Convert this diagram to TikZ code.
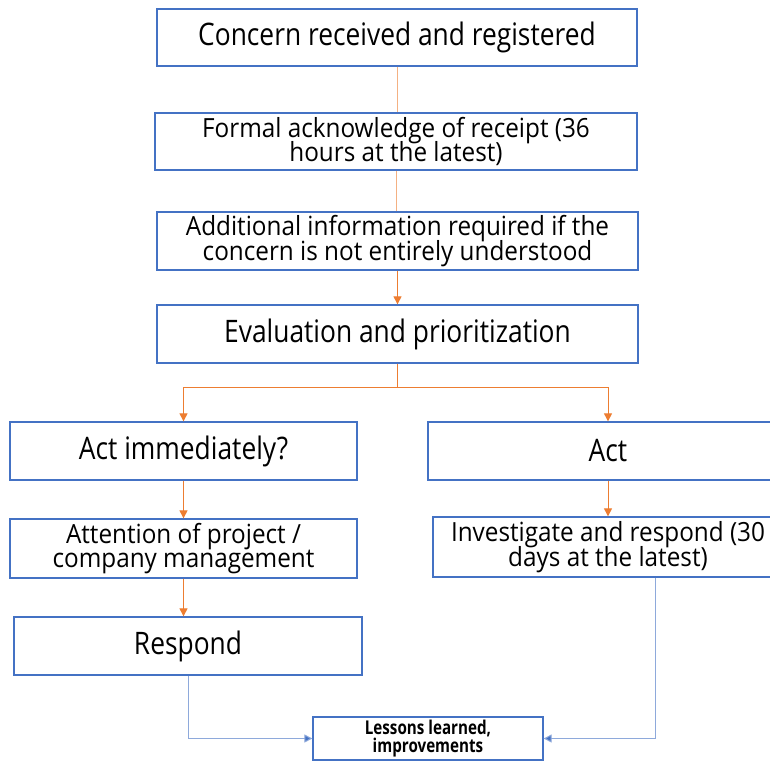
\documentclass[tikz,border=0pt]{standalone}
\usepackage{fontspec}
\setmainfont[FakeStretch=0.85]{Open Sans}
\newfontfamily\twofont[FakeStretch=0.92]{Open Sans}
\newfontfamily\lessonsfont[FakeStretch=0.8]{Open Sans}
\usetikzlibrary{arrows.meta}
\definecolor{boxblue}{HTML}{4472C4}
\definecolor{lineorange}{HTML}{ED7D31}
\definecolor{paleorange}{HTML}{F4B183}
\definecolor{lineblue}{HTML}{8EA9DB}
\begin{document}
\begin{tikzpicture}[x=1pt,y=1pt,
  box/.style={draw=boxblue, line width=1.3pt, rectangle, inner sep=0pt, align=center,
    font={\twofont\fontsize{26.4}{24.5}\selectfont\lineskiplimit=-30pt}},
  big/.style={font={\fontsize{31}{26}\selectfont}},
  paleline/.style={draw=paleorange, line width=0.8pt},
  orline/.style={draw=lineorange, line width=1pt, -{Triangle[length=8pt,width=8pt]}},
  forkline/.style={draw=lineorange, line width=1pt},
  blline/.style={draw=lineblue, line width=1pt, -{Triangle[length=8pt,width=8pt,fill=boxblue]}}]
\useasboundingbox (0,0) rectangle (770,761);
\fill[white] (0,0) rectangle (770,761);

\node[box,big, minimum width=480, minimum height=57] (b1) at (397,723.5) {Concern received and registered};
\node[box, minimum width=482, minimum height=57] (b2) at (396,619.5) {Formal acknowledge of receipt (36\\hours at the latest)};
\node[box, minimum width=481, minimum height=58] (b3) at (397.5,520) {Additional information required if the\\concern is not entirely understood};
\node[box,big, minimum width=481, minimum height=58] (b4) at (397.5,427) {Evaluation and prioritization};
\node[box,big, minimum width=347, minimum height=58] (b5) at (183.5,310) {Act immediately?};
\node[box,big, minimum width=360, minimum height=58] (b6) at (608,310) {Act};
\node[box, minimum width=347, minimum height=59] (b7) at (183.5,212.5) {Attention of project /\\company management};
\node[box, minimum width=350, minimum height=60] (b8) at (608,214) {Investigate and respond (30\\days at the latest)};
\node[box,big, minimum width=348, minimum height=58] (b9) at (188,115) {Respond};
\node[box, minimum width=230, minimum height=43, font={\lessonsfont\bfseries\fontsize{19}{17.5}\selectfont\lineskiplimit=-30pt}] (b10) at (428,22.5) {Lessons learned,\\improvements};

\coordinate (fork) at ([yshift=-24]b4.south);

\draw[paleline] (b1.south) -- (b1.south |- b2.north);
\draw[paleline] (b2.south) -- (b2.south |- b3.north);
\draw[orline] (b3.south) -- (b4.north);
\draw[forkline] (b4.south) -- (fork);
\draw[orline] (fork) -| (b5.north);
\draw[orline] (fork) -| (b6.north);
\draw[orline] (b5.south) -- (b7.north);
\draw[orline] (b6.south) -- (b8.north);
\draw[orline] (b7.south) -- (b7.south |- b9.north);
\draw[blline] (b9.south) |- (b10.west);
\draw[blline] ([xshift=47]b8.south) |- (b10.east);
\end{tikzpicture}
\end{document}
